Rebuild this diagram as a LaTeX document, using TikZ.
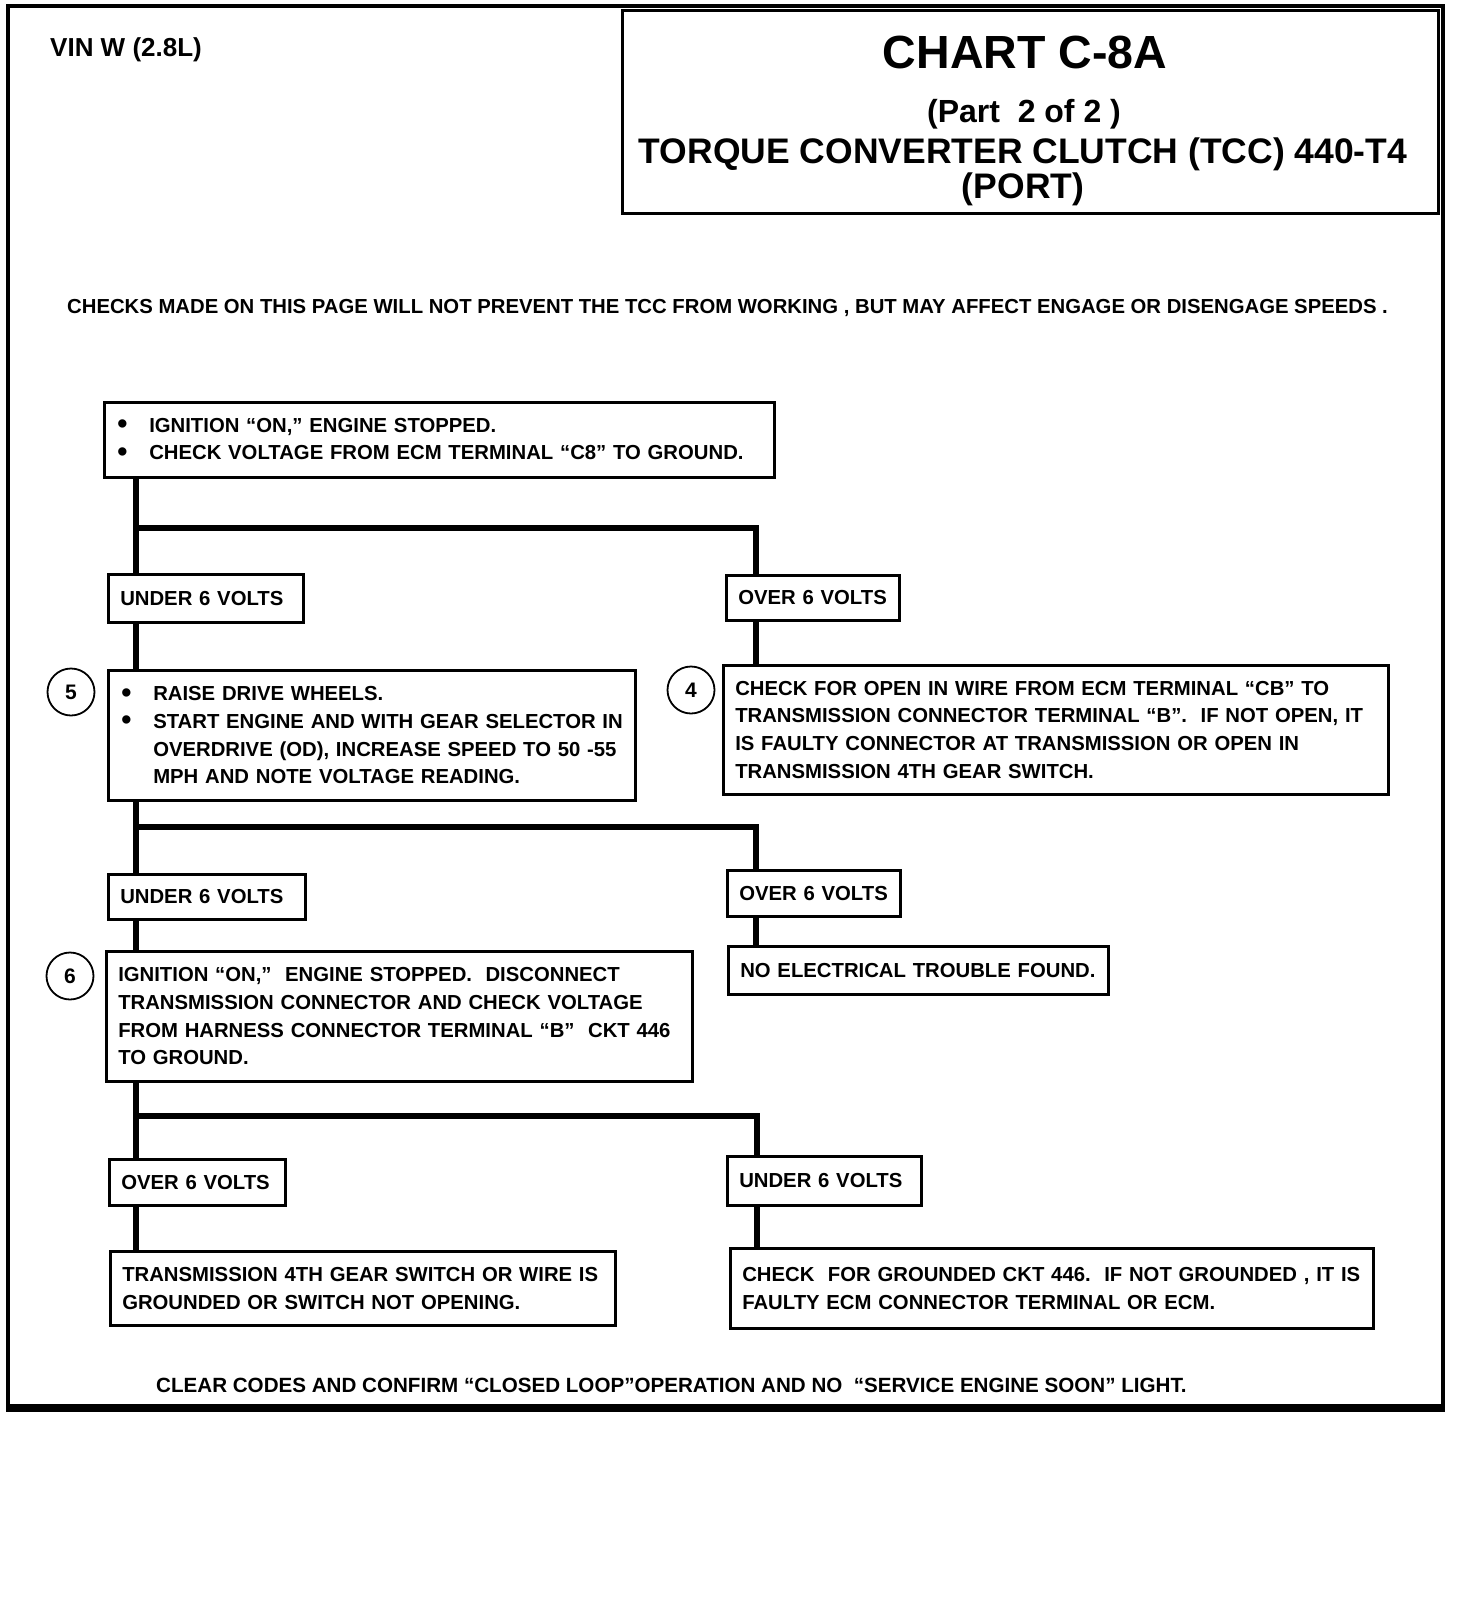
\documentclass[tikz,border=0pt]{standalone}
\usepackage{fontspec}
\setmainfont{Liberation Sans}
\newcommand{\oneline}[1]{\mbox{#1}}
\newcommand{\bul}{\makebox[33pt][l]{\hspace*{1pt}\raisebox{-1.5pt}{\fontsize{29}{29}\selectfont\textbullet}}}
\newcommand{\ind}{\hspace*{33pt}}
\begin{document}
\begin{tikzpicture}[x=1pt,y=-1pt,
  box/.style={draw, line width=2.5pt, anchor=north west, inner xsep=12pt, inner ysep=0pt,
    align=left, font=\fontsize{20.3}{27.6}\selectfont\bfseries},
  wire/.style={line width=6.5pt, line join=miter, line cap=butt},
  num/.style={circle, draw, line width=1.8pt, minimum size=47pt, inner sep=0pt,
    font=\fontsize{21}{21}\selectfont\bfseries},
  ttl/.style={anchor=base, inner sep=0pt},
  txt/.style={anchor=base west, inner sep=0pt, font=\fontsize{20.3}{24}\selectfont\bfseries}]
\useasboundingbox (0,0) rectangle (1472,1618);
% outer frame
\draw[line width=4pt] (8,6) rectangle (1443,1408);
\draw[line width=8pt] (6,1408) -- (1445,1408);
% title block
\node[draw, line width=3pt, anchor=north west, minimum width=816pt, minimum height=203pt, inner sep=0pt] (title) at (621,9) {};
\node[ttl, font=\fontsize{46.5}{50}\selectfont\bfseries] (chart) at (1025,68) {CHART C-8A};
\node[ttl, font=\fontsize{32}{36}\selectfont\bfseries] (part) at (1024,122) {(Part\ \ 2 of 2 )};
\node[ttl, font=\fontsize{35.5}{40}\selectfont\bfseries] (tcc) at (1023,163) {TORQUE CONVERTER CLUTCH (TCC) 440-T4};
\node[ttl, font=\fontsize{35.5}{40}\selectfont\bfseries] (port) at (1023,198) {(PORT)};
\node[anchor=base west, inner sep=0pt, font=\fontsize{26}{30}\selectfont\bfseries] (vin) at (50,56) {VIN W (2.8L)};
\node[txt] (checks) at (67,313) {CHECKS MADE ON THIS PAGE WILL NOT PREVENT THE TCC FROM WORKING , BUT MAY AFFECT ENGAGE OR DISENGAGE SPEEDS .};
\node[txt, font=\fontsize{20.6}{24}\selectfont\bfseries] (clear) at (156,1392) {CLEAR CODES AND CONFIRM “CLOSED LOOP”OPERATION AND NO \ “SERVICE ENGINE SOON” LIGHT.};
% boxes
\node[box, minimum height=75pt, text width=646pt] (b1) at (103,401)
  {\oneline{\bul IGNITION “ON,” ENGINE STOPPED.}\\
   \oneline{\bul CHECK VOLTAGE FROM ECM TERMINAL “C8” TO GROUND.}};
\node[box, minimum height=48pt, text width=171pt] (u1) at (107,573) {UNDER 6 VOLTS};
\node[box, minimum height=45pt, text width=149pt] (o1) at (725,574) {OVER 6 VOLTS};
\node[box, minimum height=130pt, text width=503pt] (b5) at (107,669)
  {\oneline{\bul RAISE DRIVE WHEELS.}\\
   \oneline{\bul START ENGINE AND WITH GEAR SELECTOR IN}\\
   \oneline{\ind OVERDRIVE (OD), INCREASE SPEED TO 50 -55}\\
   \oneline{\ind MPH AND NOTE VOLTAGE READING.}};
\node[box, minimum height=129pt, text width=641pt] (b4) at (722,664)
  {\oneline{CHECK FOR OPEN IN WIRE FROM ECM TERMINAL “CB” TO}\\
   \oneline{TRANSMISSION CONNECTOR TERMINAL “B”.\ \ IF NOT OPEN, IT}\\
   \oneline{IS FAULTY CONNECTOR AT TRANSMISSION OR OPEN IN}\\
   \oneline{TRANSMISSION 4TH GEAR SWITCH.}};
\node[box, minimum height=45pt, text width=173pt] (u2) at (107,873) {UNDER 6 VOLTS};
\node[box, minimum height=46pt, text width=149pt] (o2) at (726,869) {OVER 6 VOLTS};
\node[box, minimum height=48pt, text width=356pt] (ne) at (727,945) {NO ELECTRICAL TROUBLE FOUND.};
\node[box, minimum height=130pt, text width=562pt] (b6) at (105,950)
  {\oneline{IGNITION “ON,”\ \ ENGINE STOPPED.\ \ DISCONNECT}\\
   \oneline{TRANSMISSION CONNECTOR AND CHECK VOLTAGE}\\
   \oneline{FROM HARNESS CONNECTOR TERMINAL “B”\ \ CKT 446}\\
   \oneline{TO GROUND.}};
\node[box, minimum height=46pt, text width=152pt] (o3) at (108,1158) {OVER 6 VOLTS};
\node[box, minimum height=49pt, text width=170pt] (u3) at (726,1155) {UNDER 6 VOLTS};
\node[box, minimum height=74pt, text width=481pt] (tr) at (109,1250)
  {\oneline{TRANSMISSION 4TH GEAR SWITCH OR WIRE IS}\\
   \oneline{GROUNDED OR SWITCH NOT OPENING.}};
\node[box, minimum height=80pt, text width=619pt] (cg) at (729,1247)
  {\oneline{CHECK\ \ FOR GROUNDED CKT 446.\ \ IF NOT GROUNDED , IT IS}\\
   \oneline{FAULTY ECM CONNECTOR TERMINAL OR ECM.}};
% step numbers
\node[num] (c5) at (71,692) {5};
\node[num] (c4) at (691,690) {4};
\node[num] (c6) at (70,976) {6};
% connectors
\coordinate (T) at (136,0);
\coordinate (J1) at (136,528); \coordinate (K1) at (756,528);
\coordinate (J2) at (136,827); \coordinate (K2) at (756,827);
\coordinate (J3) at (136,1116); \coordinate (K3) at (757,1116);
\draw[wire] (b1.south -| T) -- (u1.north -| T);
\draw[wire] (J1) -- (K1) -- (o1.north -| K1);
\draw[wire] (u1.south -| T) -- (b5.north -| T);
\draw[wire] (o1.south -| K1) -- (b4.north -| K1);
\draw[wire] (b5.south -| T) -- (u2.north -| T);
\draw[wire] (J2) -- (K2) -- (o2.north -| K2);
\draw[wire] (o2.south -| K2) -- (ne.north -| K2);
\draw[wire] (u2.south -| T) -- (b6.north -| T);
\draw[wire] (b6.south -| T) -- (o3.north -| T);
\draw[wire] (J3) -- (K3) -- (u3.north -| K3);
\draw[wire] (o3.south -| T) -- (tr.north -| T);
\draw[wire] (u3.south -| K3) -- (cg.north -| K3);
\end{tikzpicture}
\end{document}
